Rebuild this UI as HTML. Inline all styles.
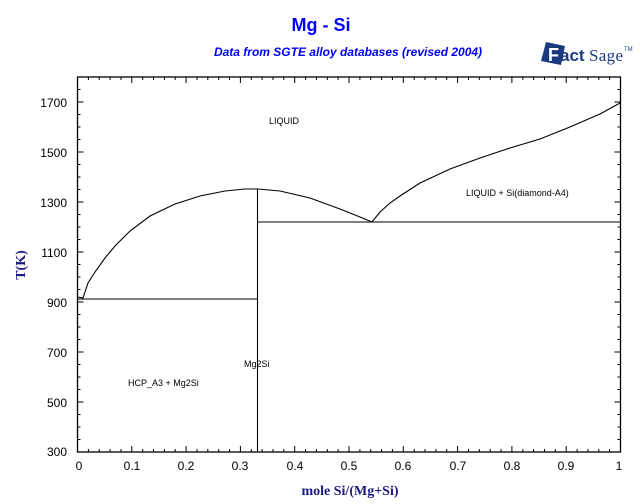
<!DOCTYPE html>
<html><head><style>
body{margin:0;background:#fff;width:640px;height:504px;overflow:hidden}
svg{display:block}
</style></head><body>
<svg width="640" height="504" xmlns="http://www.w3.org/2000/svg" font-family="Liberation Sans, sans-serif">
<text x="321" y="31" text-anchor="middle" font-size="18" font-weight="bold" fill="#0000ff">Mg - Si</text>
<text x="348" y="56" text-anchor="middle" font-size="12" font-weight="bold" font-style="italic" fill="#0000ff">Data from SGTE alloy databases (revised 2004)</text>
<g transform="translate(541,42)">
<polygon points="5,0 24,4 20,23 0,19" fill="#1a3a80"/>
<text x="7" y="19" font-size="18" font-weight="bold" fill="#fff" font-family="Liberation Sans, sans-serif">F</text>
<text x="19" y="19" font-size="17" font-weight="bold" fill="#1a3a80" font-family="Liberation Sans, sans-serif">act</text>
<text x="48" y="19" font-size="17" fill="#1a3a80" font-family="Liberation Serif, serif" textLength="34">Sage</text>
<text x="83" y="9" font-size="6" fill="#1a3a80">TM</text>
</g>
<g stroke="#000" fill="none" stroke-width="1.3">
<rect x="77.5" y="77" width="543" height="375"/>
</g>
<g stroke="#000" stroke-width="1">
<path d="M77.5 452v-6M131.8 452v-6M186.1 452v-6M240.4 452v-6M294.7 452v-6M349 452v-6M403.3 452v-6M457.6 452v-6M511.9 452v-6M566.2 452v-6M620.5 452v-6
M77.5 77v6M131.8 77v6M186.1 77v6M240.4 77v6M294.7 77v6M349 77v6M403.3 77v6M457.6 77v6M511.9 77v6M566.2 77v6M620.5 77v6"/>
<path d="M88.4 452v-3M99.2 452v-3M110.1 452v-3M121 452v-3M142.7 452v-3M153.5 452v-3M164.4 452v-3M175.2 452v-3M197 452v-3M207.8 452v-3M218.7 452v-3M229.5 452v-3M251.3 452v-3M262.1 452v-3M273 452v-3M283.8 452v-3M305.6 452v-3M316.4 452v-3M327.3 452v-3M338.1 452v-3M359.9 452v-3M370.7 452v-3M381.6 452v-3M392.4 452v-3M414.2 452v-3M425 452v-3M435.9 452v-3M446.7 452v-3M468.5 452v-3M479.3 452v-3M490.2 452v-3M501 452v-3M522.8 452v-3M533.6 452v-3M544.5 452v-3M555.3 452v-3M577.1 452v-3M587.9 452v-3M598.8 452v-3M609.6 452v-3
M88.4 77v3M99.2 77v3M110.1 77v3M121 77v3M142.7 77v3M153.5 77v3M164.4 77v3M175.2 77v3M197 77v3M207.8 77v3M218.7 77v3M229.5 77v3M251.3 77v3M262.1 77v3M273 77v3M283.8 77v3M305.6 77v3M316.4 77v3M327.3 77v3M338.1 77v3M359.9 77v3M370.7 77v3M381.6 77v3M392.4 77v3M414.2 77v3M425 77v3M435.9 77v3M446.7 77v3M468.5 77v3M479.3 77v3M490.2 77v3M501 77v3M522.8 77v3M533.6 77v3M544.5 77v3M555.3 77v3M577.1 77v3M587.9 77v3M598.8 77v3M609.6 77v3"/>
<path d="M77.5 102h6M77.5 152h6M77.5 202h6M77.5 252h6M77.5 302h6M77.5 352h6M77.5 402h6
M620.5 102h-6M620.5 152h-6M620.5 202h-6M620.5 252h-6M620.5 302h-6M620.5 352h-6M620.5 402h-6"/>
<path d="M77.5 89.5h3M77.5 114.5h3M77.5 127h3M77.5 139.5h3M77.5 164.5h3M77.5 177h3M77.5 189.5h3M77.5 214.5h3M77.5 227h3M77.5 239.5h3M77.5 264.5h3M77.5 277h3M77.5 289.5h3M77.5 314.5h3M77.5 327h3M77.5 339.5h3M77.5 364.5h3M77.5 377h3M77.5 389.5h3M77.5 414.5h3M77.5 427h3M77.5 439.5h3
M620.5 89.5h-3M620.5 114.5h-3M620.5 127h-3M620.5 139.5h-3M620.5 164.5h-3M620.5 177h-3M620.5 189.5h-3M620.5 214.5h-3M620.5 227h-3M620.5 239.5h-3M620.5 264.5h-3M620.5 277h-3M620.5 289.5h-3M620.5 314.5h-3M620.5 327h-3M620.5 339.5h-3M620.5 364.5h-3M620.5 377h-3M620.5 389.5h-3M620.5 414.5h-3M620.5 427h-3M620.5 439.5h-3"/>
</g>
<g font-size="12" fill="#000">
<g text-anchor="end">
<text x="67" y="107">1700</text><text x="67" y="157">1500</text><text x="67" y="207">1300</text><text x="67" y="257">1100</text><text x="67" y="307">900</text><text x="67" y="357">700</text><text x="67" y="407">500</text><text x="67" y="456">300</text>
</g>
<g text-anchor="middle">
<text x="79" y="470">0</text><text x="132" y="470">0.1</text><text x="186" y="470">0.2</text><text x="240" y="470">0.3</text><text x="295" y="470">0.4</text><text x="349" y="470">0.5</text><text x="403" y="470">0.6</text><text x="458" y="470">0.7</text><text x="512" y="470">0.8</text><text x="566" y="470">0.9</text><text x="619" y="470">1</text>
</g>
</g>
<text x="350" y="495" text-anchor="middle" font-size="14" font-weight="bold" fill="#1a1a80" font-family="Liberation Serif, serif">mole Si/(Mg+Si)</text>
<text transform="translate(25,265) rotate(-90)" text-anchor="middle" font-size="14" font-weight="bold" fill="#1a1a80" font-family="Liberation Serif, serif">T(K)</text>
<g stroke="#000" fill="none" stroke-width="1.1">
<path d="M77.5 299H257.5M257.5 189V452M257.5 222H620.5"/>
<path d="M77.5 297L83 298L85 292L88 283L95 272L105 258L115 246L130 231L150 216L175 204L200 196L225 191L245 189L258 189L280 191L310 198L340 209L360 217L372 222L380 212L390 203L400 196L420 183L450 169L480 158L510 148L540 139L570 127L600 114L620 103"/>
</g>
<g font-size="9" fill="#000">
<text x="269" y="124">LIQUID</text>
<text x="466" y="196">LIQUID + Si(diamond-A4)</text>
<text x="244" y="367">Mg2Si</text>
<text x="128" y="386">HCP_A3 + Mg2Si</text>
</g>
</svg>
</body></html>
